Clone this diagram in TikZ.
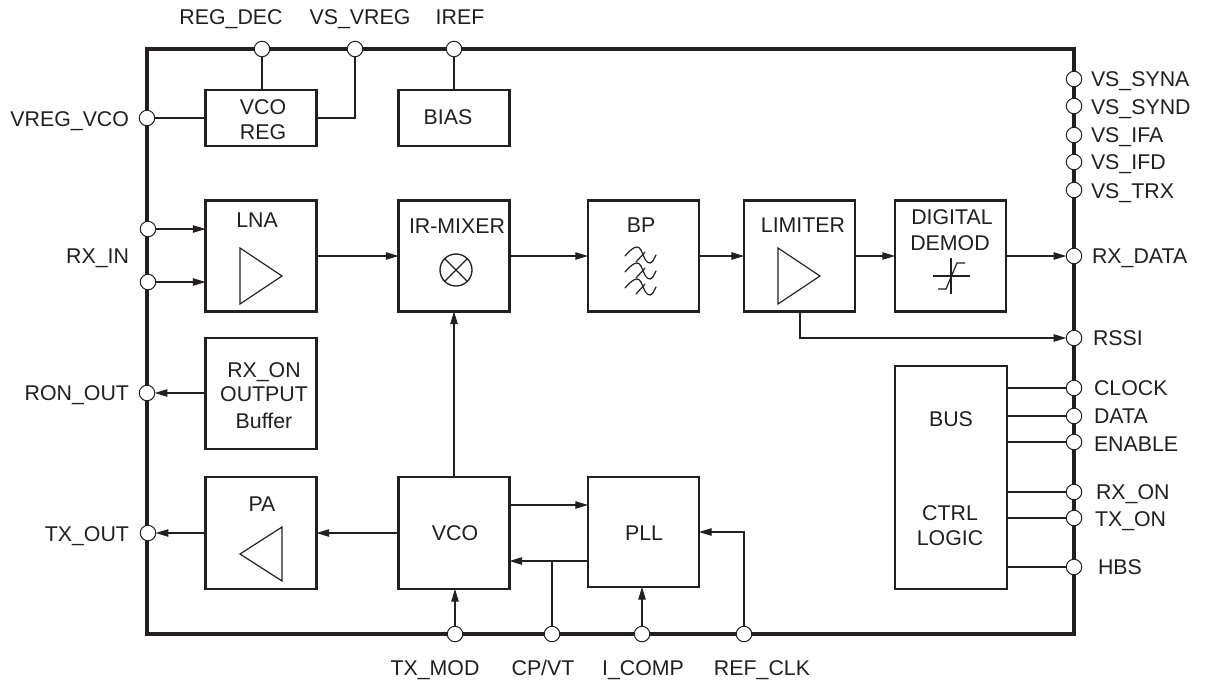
\documentclass[tikz,border=0pt]{standalone}
\usepackage{fontspec}
\setmainfont{Liberation Sans}
\usetikzlibrary{arrows.meta,calc}
\definecolor{ink}{HTML}{231F20}
\tikzset{
  px/.style={x=0.75pt,y=-0.75pt},
  block/.style 2 args={draw=ink,line width=1.6pt,fill=white,inner sep=0pt,outer sep=0pt,minimum width=#1*0.75pt,minimum height=#2*0.75pt},
  chipframe/.style={draw=ink,line width=3pt,inner sep=0pt,outer sep=0pt,minimum width=927*0.75pt,minimum height=585*0.75pt},
  pin/.style={circle,draw=ink,line width=0.75pt,fill=white,inner sep=0pt,outer sep=0pt,minimum size=15.5*0.75pt},
  txt/.style={text=ink,inner sep=0pt,outer sep=0pt,text height=11.6pt,text depth=0pt,font=\fontsize{16}{18}\selectfont},
  wire/.style={draw=ink,line width=0.8pt},
  flow/.style={wire,-{Triangle[length=9.5pt,width=5.6pt]}},
  glyph/.style={draw=ink,line width=0.9pt,line join=miter},
}
\begin{document}
\begin{tikzpicture}[px]
\useasboundingbox (0,0) rectangle (1205,683);
\node[chipframe] (chip) at (610.5,341.5) {};
% pins
\foreach \n/\x/\y in {regdec/262/49,vsvreg/355/49,iref/454/49,
  vregvco/147/118,rxa/148/229,rxb/148/282,ronout/147/393,txout/148/533,
  txmod/455/634,cpvt/552/634,icomp/642/634,refclk/744/634,
  vssyna/1074/79,vssynd/1074/106,vsifa/1074/135,vsifd/1074/162,vstrx/1074/190,
  rxdata/1074/256,rssi/1074/338,clock/1074/388,data/1074/416,enable/1074/442,
  rxon/1074/492,txon/1074/518,hbs/1074/567}
  {\node[pin] (\n) at (\x,\y) {};}
% blocks
\node[block={111}{56}]  (vcoreg) at (261,118) {};
\node[block={111}{56}]  (bias)   at (454,118) {};
\node[block={111}{111}] (lna)    at (261,256) {};
\node[block={111}{111}] (mixer)  at (454,256) {};
\node[block={111}{111}] (bp)     at (643.5,256) {};
\node[block={111}{111}] (lim)    at (799.5,256) {};
\node[block={111}{111}] (demod)  at (950.5,256) {};
\node[block={111}{111}] (ronbuf) at (261,393.5) {};
\node[block={111}{112}] (pa)     at (261,533) {};
\node[block={111}{112}] (vco)    at (454,533) {};
\node[block={111}{110}] (pll)    at (643.5,532) {};
\node[block={112}{223}] (bus)    at (951,477.5) {};
% block texts
\node[txt] (t1) at (263,107) {VCO};
\node[txt] (t2) at (263,132) {REG};
\node[txt] (t3) at (448,117) {BIAS};
\node[txt] (t4) at (257,220) {LNA};
\node[txt] (t5) at (457,226) {IR-MIXER};
\node[txt] (t6) at (641,225) {BP};
\node[txt] (t7) at (803,225) {LIMITER};
\node[txt] (t8) at (952,217) {DIGITAL};
\node[txt] (t9) at (950,243) {DEMOD};
\node[txt] (t10) at (264,370) {RX\_ON};
\node[txt] (t11) at (264,394) {OUTPUT};
\node[txt] (t12) at (264,421) {Buffer};
\node[txt] (t13) at (262,504) {PA};
\node[txt] (t14) at (455,533) {VCO};
\node[txt] (t15) at (644,533) {PLL};
\node[txt] (t16) at (951,419) {BUS};
\node[txt] (t17) at (950,513) {CTRL};
\node[txt] (t18) at (950,538) {LOGIC};
% pin labels
\node[txt] (l1) at (231,17) {REG\_DEC};
\node[txt] (l2) at (360,17) {VS\_VREG};
\node[txt] (l3) at (460,17) {IREF};
\foreach \n/\t/\y in {l4/VREG\_VCO/119,l5/RX\_IN/256,l6/RON\_OUT/393,l7/TX\_OUT/534}
  {\node[txt,anchor=east] (\n) at (129,\y) {\t};}
\node[txt] (l8) at (435,668) {TX\_MOD};
\node[txt] (l9) at (543,668) {CP/VT};
\node[txt] (l10) at (643,668) {I\_COMP};
\node[txt] (l11) at (762,668) {REF\_CLK};
\foreach \n/\t/\x/\y in {r1/VS\_SYNA/1091/79,r2/VS\_SYND/1091/107,r3/VS\_IFA/1091/135,r4/VS\_IFD/1091/162,r5/VS\_TRX/1091/191,
  r6/RX\_DATA/1092/256,r7/RSSI/1093/338,r8/CLOCK/1094/388,r9/DATA/1094/416,r10/ENABLE/1094/444,
  r11/RX\_ON/1096/492,r12/TX\_ON/1095/519,r13/HBS/1098/567}
  {\node[txt,anchor=west] (\n) at (\x,\y) {\t};}
% connectors
\draw[wire] (regdec) -- (regdec |- vcoreg.north);
\draw[wire] (vsvreg) |- (vcoreg.east);
\draw[wire] (iref) -- (iref |- bias.north);
\draw[wire] (vregvco) -- (vcoreg.west);
\draw[flow] (rxa) -- (rxa -| lna.west);
\draw[flow] (rxb) -- (rxb -| lna.west);
\draw[flow] (lna.east) -- (mixer.west);
\draw[flow] (mixer.east) -- (bp.west);
\draw[flow] (bp.east) -- (lim.west);
\draw[flow] (lim.east) -- (demod.west);
\draw[flow] (demod.east) -- (rxdata);
\draw[flow] (lim.south) ++(0.5,0) |- (rssi);
\draw[flow] (ronout -| ronbuf.west) -- (ronout);
\draw[flow] (pa.west) -- (txout);
\draw[flow] (vco.west) -- (pa.east);
\draw[flow] (vco.north) -- (mixer.south);
\coordinate (vcoA) at (vco.east |- 0,505);
\coordinate (vcoB) at (vco.east |- 0,561);
\draw[flow] (vcoA) -- (vcoA -| pll.west);
\draw[flow] (vcoB -| pll.west) -- (vcoB);
\draw[wire] (cpvt) -- (cpvt |- vcoB);
\draw[flow] (txmod) -- (txmod |- vco.south);
\draw[flow] (icomp) -- (icomp |- pll.south);
\draw[flow] (refclk) |- (pll.east);
\foreach \p in {clock,data,enable,rxon,txon,hbs}
  {\draw[wire] (\p) -- (\p -| bus.east);}
% symbols
\draw[glyph] (240,248) -- (282,276) -- (240,304) -- cycle;
\draw[glyph] (778,248) -- (820,276) -- (778,304) -- cycle;
\draw[glyph] (240,554) -- (282,527) -- (282,581) -- cycle;
\node[circle,draw=ink,line width=1pt,inner sep=0pt,minimum size=32*0.75pt] (mix) at (456,270) {};
\draw[glyph] (mix.45) -- (mix.225) (mix.135) -- (mix.315);
\foreach \d in {0,16,32}{
  \begin{scope}[yshift=-\d*0.75pt]
    \draw[glyph,line cap=round] (625,256) .. controls (630,250) and (634,247) .. (637,247)
      .. controls (643,247) and (643,263) .. (650,263) .. controls (652,263) and (654,259) .. (656,255);
    \draw[glyph,line cap=round] (636,262) -- (645,252);
  \end{scope}}
\draw[glyph] (933,276) -- (970,276) (951,258) -- (951,294);
\draw[glyph] (938,289) -- (946,289) -- (957,263) -- (965,263);
\end{tikzpicture}
\end{document}
